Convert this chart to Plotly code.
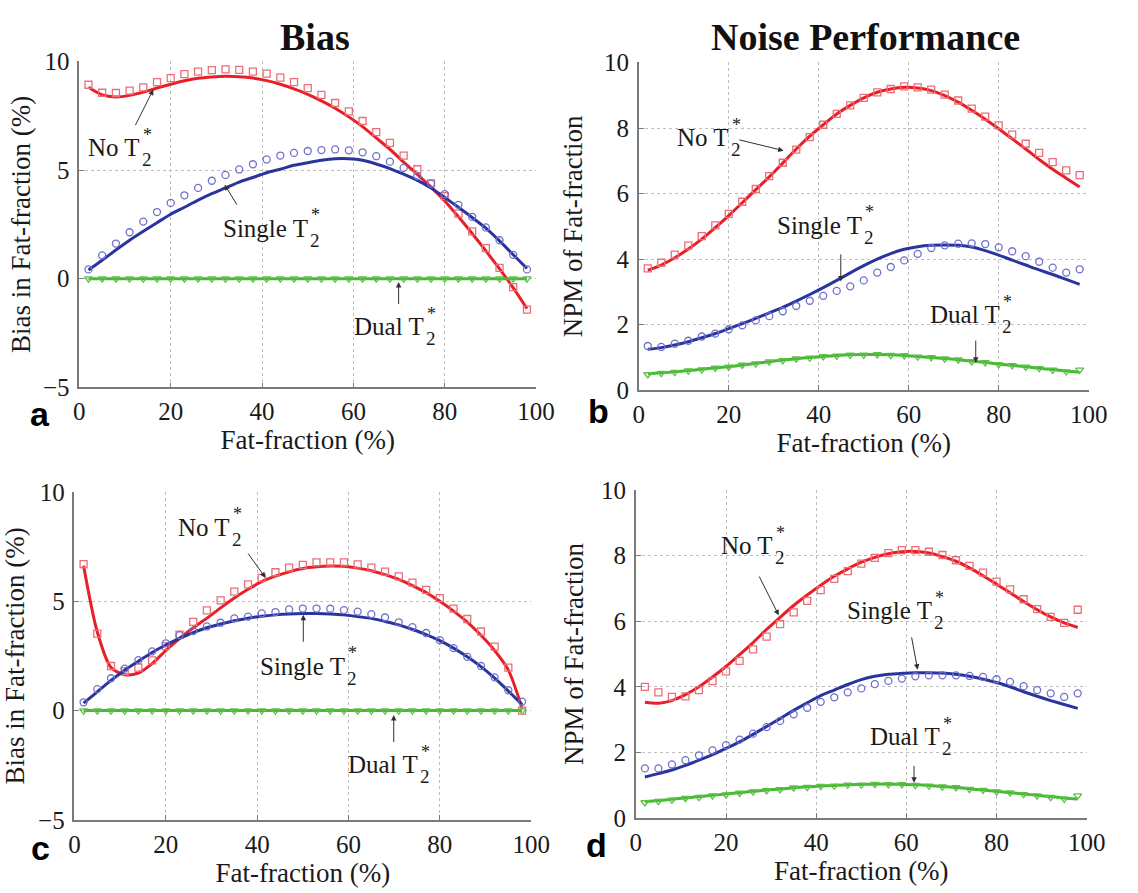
import plotly.graph_objects as go

# Fat-fraction sample points (%)
fat_fraction = [2, 5, 8, 11, 14, 17, 20, 23, 26, 29, 32, 35, 38, 41, 44, 47, 50,
                53, 56, 59, 62, 65, 68, 71, 74, 77, 80, 83, 86, 89, 92, 95, 98]

# ---- (a) Bias, simulated points and theoretical curves ----
a_no_sim = [8.93, 8.56, 8.55, 8.66, 8.81, 9.05, 9.23, 9.42, 9.53, 9.60, 9.64, 9.61, 9.53, 9.44, 9.26, 9.05, 8.77,
            8.46, 8.09, 7.70, 7.26, 6.75, 6.25, 5.67, 5.04, 4.39, 3.80, 3.00, 2.18, 1.41, 0.50, -0.39, -1.42]
a_no_fit = [8.81, 8.46, 8.37, 8.44, 8.59, 8.78, 8.95, 9.11, 9.23, 9.29, 9.32, 9.30, 9.24, 9.12, 8.95, 8.74, 8.49,
            8.19, 7.85, 7.45, 7.00, 6.48, 5.96, 5.37, 4.80, 4.22, 3.58, 2.85, 2.08, 1.28, 0.45, -0.42, -1.38]
a_single_sim = [0.43, 1.07, 1.62, 2.14, 2.63, 3.07, 3.49, 3.84, 4.18, 4.51, 4.78, 5.03, 5.27, 5.49, 5.67, 5.79, 5.88,
                5.92, 5.95, 5.91, 5.82, 5.64, 5.39, 5.10, 4.73, 4.38, 3.89, 3.40, 2.85, 2.36, 1.77, 1.10, 0.43]
a_single_fit = [0.40, 0.85, 1.32, 1.77, 2.18, 2.58, 2.97, 3.29, 3.62, 3.92, 4.18, 4.45, 4.66, 4.88, 5.04, 5.22, 5.34,
                5.45, 5.52, 5.52, 5.45, 5.28, 5.07, 4.81, 4.53, 4.18, 3.74, 3.29, 2.82, 2.33, 1.74, 1.10, 0.47]
a_dual_sim = [0.0] * 33
a_dual_fit = [0.0] * 33

# ---- (b) Noise performance ----
b_no_sim = [3.72, 3.89, 4.14, 4.41, 4.70, 5.03, 5.38, 5.75, 6.14, 6.53, 6.94, 7.34, 7.72, 8.10, 8.43, 8.69, 8.92,
            9.09, 9.19, 9.27, 9.24, 9.17, 9.02, 8.84, 8.59, 8.35, 8.08, 7.80, 7.52, 7.24, 6.96, 6.71, 6.56]
b_no_fit = [3.66, 3.82, 4.04, 4.31, 4.61, 4.96, 5.33, 5.72, 6.12, 6.51, 6.93, 7.36, 7.75, 8.10, 8.43, 8.69, 8.92,
            9.09, 9.19, 9.24, 9.22, 9.14, 8.99, 8.79, 8.54, 8.27, 7.98, 7.67, 7.36, 7.04, 6.74, 6.47, 6.20]
b_single_sim = [1.35, 1.32, 1.42, 1.51, 1.64, 1.73, 1.86, 1.98, 2.13, 2.26, 2.41, 2.57, 2.73, 2.88, 3.03, 3.17, 3.35,
                3.59, 3.76, 3.96, 4.16, 4.34, 4.42, 4.47, 4.48, 4.46, 4.36, 4.24, 4.09, 3.92, 3.74, 3.59, 3.69]
b_single_fit = [1.25, 1.30, 1.38, 1.48, 1.60, 1.73, 1.88, 2.03, 2.19, 2.36, 2.53, 2.72, 2.92, 3.13, 3.35, 3.58, 3.80,
                4.00, 4.17, 4.30, 4.38, 4.42, 4.43, 4.42, 4.37, 4.26, 4.12, 3.97, 3.82, 3.67, 3.53, 3.38, 3.23]
b_dual_sim = [0.48, 0.52, 0.55, 0.60, 0.63, 0.68, 0.71, 0.77, 0.81, 0.87, 0.91, 0.96, 0.99, 1.03, 1.05, 1.08, 1.08,
              1.09, 1.07, 1.06, 1.02, 1.00, 0.96, 0.93, 0.88, 0.85, 0.79, 0.76, 0.71, 0.67, 0.62, 0.57, 0.62]
b_dual_fit = [0.50, 0.53, 0.56, 0.60, 0.64, 0.68, 0.72, 0.77, 0.82, 0.87, 0.92, 0.96, 1.00, 1.03, 1.06, 1.08, 1.09,
              1.09, 1.08, 1.06, 1.03, 1.00, 0.97, 0.93, 0.89, 0.85, 0.80, 0.76, 0.72, 0.67, 0.63, 0.59, 0.55]

# ---- (c) Bias, second fat model ----
c_no_sim = [6.70, 3.52, 2.04, 1.80, 1.97, 2.30, 2.95, 3.48, 4.06, 4.59, 5.04, 5.44, 5.78, 6.07, 6.33, 6.54, 6.67,
            6.78, 6.78, 6.78, 6.69, 6.54, 6.36, 6.14, 5.86, 5.52, 5.15, 4.67, 4.19, 3.62, 2.93, 1.97, 0.00]
c_no_fit = [6.63, 3.60, 1.97, 1.64, 1.72, 2.15, 2.75, 3.30, 3.79, 4.23, 4.70, 5.15, 5.55, 5.90, 6.15, 6.35, 6.50,
            6.58, 6.62, 6.60, 6.52, 6.40, 6.22, 6.00, 5.72, 5.40, 5.00, 4.55, 4.05, 3.45, 2.75, 1.85, 0.10]
c_single_sim = [0.38, 0.98, 1.48, 1.92, 2.31, 2.71, 3.08, 3.45, 3.64, 3.85, 4.02, 4.22, 4.30, 4.45, 4.51, 4.63, 4.67,
                4.67, 4.66, 4.60, 4.53, 4.41, 4.26, 4.04, 3.82, 3.55, 3.22, 2.86, 2.46, 2.04, 1.52, 0.93, 0.41]
c_single_fit = [0.34, 0.86, 1.38, 1.85, 2.26, 2.66, 3.00, 3.30, 3.57, 3.79, 3.96, 4.11, 4.23, 4.32, 4.38, 4.42, 4.44,
                4.44, 4.42, 4.38, 4.30, 4.22, 4.08, 3.92, 3.71, 3.48, 3.20, 2.86, 2.46, 2.01, 1.48, 0.89, 0.27]
c_dual_sim = [0.0] * 33
c_dual_fit = [0.0] * 33

# ---- (d) Noise performance, second fat model ----
d_no_sim = [4.00, 3.83, 3.69, 3.71, 3.90, 4.17, 4.47, 4.79, 5.14, 5.53, 5.91, 6.27, 6.62, 6.95, 7.29, 7.53, 7.76,
            7.93, 8.08, 8.17, 8.17, 8.12, 8.02, 7.86, 7.69, 7.48, 7.21, 6.97, 6.67, 6.37, 6.13, 5.95, 6.35]
d_no_fit = [3.53, 3.50, 3.58, 3.76, 4.00, 4.30, 4.62, 4.98, 5.35, 5.75, 6.12, 6.48, 6.80, 7.10, 7.37, 7.60, 7.80,
            7.95, 8.06, 8.12, 8.13, 8.08, 7.97, 7.83, 7.63, 7.39, 7.13, 6.87, 6.60, 6.35, 6.13, 5.95, 5.81]
d_single_sim = [1.51, 1.51, 1.63, 1.76, 1.91, 2.06, 2.22, 2.39, 2.57, 2.77, 2.96, 3.16, 3.36, 3.54, 3.68, 3.83, 3.95,
                4.08, 4.18, 4.25, 4.32, 4.35, 4.35, 4.35, 4.33, 4.30, 4.23, 4.15, 4.02, 3.90, 3.80, 3.69, 3.80]
d_single_fit = [1.25, 1.35, 1.46, 1.60, 1.76, 1.93, 2.12, 2.32, 2.55, 2.79, 3.03, 3.28, 3.51, 3.73, 3.90, 4.07, 4.22,
                4.32, 4.38, 4.41, 4.43, 4.43, 4.42, 4.38, 4.32, 4.23, 4.13, 4.00, 3.85, 3.71, 3.58, 3.46, 3.34]
d_dual_sim = [0.47, 0.51, 0.55, 0.60, 0.63, 0.68, 0.71, 0.76, 0.80, 0.84, 0.87, 0.92, 0.94, 0.97, 0.98, 1.01, 1.01,
              1.03, 1.02, 1.02, 1.00, 0.98, 0.95, 0.93, 0.88, 0.85, 0.80, 0.77, 0.72, 0.68, 0.63, 0.58, 0.68]
d_dual_fit = [0.50, 0.53, 0.57, 0.61, 0.65, 0.69, 0.73, 0.77, 0.81, 0.85, 0.88, 0.92, 0.95, 0.97, 0.99, 1.01, 1.02,
              1.03, 1.03, 1.02, 1.01, 0.99, 0.96, 0.93, 0.89, 0.85, 0.81, 0.77, 0.73, 0.69, 0.65, 0.61, 0.58]

panels = [
    # (axis suffix, sims, fits)
    ("", (a_no_sim, a_single_sim, a_dual_sim), (a_no_fit, a_single_fit, a_dual_fit)),
    ("2", (b_no_sim, b_single_sim, b_dual_sim), (b_no_fit, b_single_fit, b_dual_fit)),
    ("3", (c_no_sim, c_single_sim, c_dual_sim), (c_no_fit, c_single_fit, c_dual_fit)),
    ("4", (d_no_sim, d_single_sim, d_dual_sim), (d_no_fit, d_single_fit, d_dual_fit)),
]

LINE_COLORS = ["rgb(234,30,38)", "rgb(42,52,158)", "rgb(70,186,52)"]
MARKER_COLORS = ["rgb(236,110,120)", "rgb(112,112,205)", "rgb(95,192,72)"]
MARKER_SYMBOLS = ["square-open", "circle-open", "triangle-down-open"]

SERIF = "Liberation Serif, Times New Roman, serif"
W, H = 1138, 893

fig = go.Figure()
for suffix, sims, fits in panels:
    xa, ya = "x" + suffix, "y" + suffix
    for k in range(3):
        fig.add_trace(go.Scatter(
            x=fat_fraction, y=fits[k], mode="lines", xaxis=xa, yaxis=ya,
            line=dict(color=LINE_COLORS[k], width=3, shape="spline", smoothing=0.8),
            showlegend=False, hoverinfo="skip"))
        fig.add_trace(go.Scatter(
            x=fat_fraction, y=sims[k], mode="markers", xaxis=xa, yaxis=ya,
            marker=dict(symbol=MARKER_SYMBOLS[k], size=7, color=MARKER_COLORS[k],
                        line=dict(width=1.3, color=MARKER_COLORS[k])),
            showlegend=False))

axis_common = dict(
    showline=True, linecolor="#7a7a7a", linewidth=1.5, mirror=False,
    showgrid=True, gridcolor="#bdbdbd", griddash="dot", gridwidth=1,
    ticks="inside", ticklen=5, tickcolor="#7a7a7a", zeroline=False,
    tickfont=dict(family=SERIF, size=25, color="#1a1a1a"),
    title_font=dict(family=SERIF, size=27, color="#1a1a1a"),
)

# plot areas in pixels: (left, right, top, bottom)
boxes = {
    "": (75, 542, 50, 386),
    "2": (647, 1107, 51, 389),
    "3": (70, 537, 494, 832),
    "4": (644, 1105, 492, 830),
}
y_titles = {"": "Bias in Fat-fraction (%)", "2": "NPM of Fat-fraction",
            "3": "Bias in Fat-fraction (%)", "4": "NPM of Fat-fraction"}
y_standoff = {"": 5, "2": 14, "3": 7, "4": 10}

layout = dict(width=W, height=H, margin=dict(l=0, r=0, t=0, b=0),
              paper_bgcolor="white", plot_bgcolor="white", showlegend=False)
for suffix, (l, r, t, b) in boxes.items():
    bias = suffix in ("", "3")
    layout["xaxis" + suffix] = dict(
        axis_common, domain=[l / W, r / W], range=[0, 100], tickvals=[0, 20, 40, 60, 80, 100],
        anchor="y" + suffix, ticklabelstandoff=1,
        title=dict(text="Fat-fraction (%)", standoff=2))
    layout["yaxis" + suffix] = dict(
        axis_common, domain=[1 - b / H, 1 - t / H],
        range=[-5, 10] if bias else [0, 10],
        tickvals=[-5, 0, 5, 10] if bias else [0, 2, 4, 6, 8, 10],
        anchor="x" + suffix, ticklabelstandoff=3,
        title=dict(text=y_titles[suffix], standoff=y_standoff[suffix]))
fig.update_layout(**layout)

annotations = []


def label(suffix, x, y, text):
    """Curve label 'name T2*' with the star stacked over the subscript 2."""
    xr, yr = "x" + suffix, "y" + suffix
    f = dict(family=SERIF, color="#1a1a1a")
    annotations.append(dict(x=x, y=y, xref=xr, yref=yr, text=text, showarrow=False,
                            xanchor="right", yanchor="middle", font=dict(f, size=25)))
    annotations.append(dict(x=x, y=y, xref=xr, yref=yr, text="*", showarrow=False,
                            xanchor="left", yanchor="middle", yshift=13, xshift=-1,
                            font=dict(f, size=18)))
    annotations.append(dict(x=x, y=y, xref=xr, yref=yr, text="2", showarrow=False,
                            xanchor="left", yanchor="middle", yshift=-12, xshift=-2,
                            font=dict(f, size=19)))


def arrow(suffix, head, tail):
    xr, yr = "x" + suffix, "y" + suffix
    annotations.append(dict(x=head[0], y=head[1], ax=tail[0], ay=tail[1], xref=xr, yref=yr,
                            axref=xr, ayref=yr, text="", showarrow=True, arrowhead=2,
                            arrowsize=1.1, arrowwidth=1, arrowcolor="#303030"))


# panel a
label("", 13.7, 6.04, "No T");      arrow("", (16.2, 8.71), (12.1, 7.0))
label("", 50.6, 2.33, "Single T");  arrow("", (31.8, 4.33), (34.7, 3.34))
label("", 76.0, -2.2, "Dual T");    arrow("", (69.9, -0.15), (69.9, -1.23))
# panel b
label("2", 20.4, 7.70, "No T");     arrow("2", (32.2, 7.31), (22.0, 7.65))
label("2", 50.0, 5.03, "Single T"); arrow("2", (44.9, 3.32), (44.9, 4.19))
label("2", 80.8, 2.31, "Dual T");   arrow("2", (74.9, 0.84), (74.9, 1.56))
# panel c
label("3", 34.6, 8.40, "No T");     arrow("3", (41.8, 6.08), (37.8, 7.25))
label("3", 59.6, 2.04, "Single T"); arrow("3", (50.1, 4.38), (50.1, 3.08))
label("3", 75.6, -2.47, "Dual T");  arrow("3", (69.9, -0.2), (69.9, -1.51))
# panel d
label("4", 30.8, 8.30, "No T");     arrow("4", (31.7, 6.18), (27.2, 7.41))
label("4", 66.2, 6.32, "Single T"); arrow("4", (62.5, 4.52), (61.1, 5.55))
label("4", 67.8, 2.47, "Dual T");   arrow("4", (61.7, 1.07), (61.7, 1.63))

# column titles
for text, xc, yc in (("Bias", 316, 25), ("Noise Performance", 879, 25)):
    annotations.append(dict(x=xc / W, y=1 - yc / H, xref="paper", yref="paper",
                            text="<b>%s</b>" % text, showarrow=False,
                            xanchor="center", yanchor="middle",
                            font=dict(family=SERIF, size=38, color="#111")))

# panel letters
for letter, px, py in (("a", 35, 413), ("b", 606, 410), ("c", 35, 861), ("d", 604, 858)):
    annotations.append(dict(x=px / W, y=1 - py / H, xref="paper", yref="paper",
                            text="<b>%s</b>" % letter, showarrow=False,
                            xanchor="center", yanchor="middle",
                            font=dict(family="Liberation Sans, Arial, sans-serif", size=34, color="#000")))

fig.update_layout(annotations=annotations)
fig.write_html("out.html")
